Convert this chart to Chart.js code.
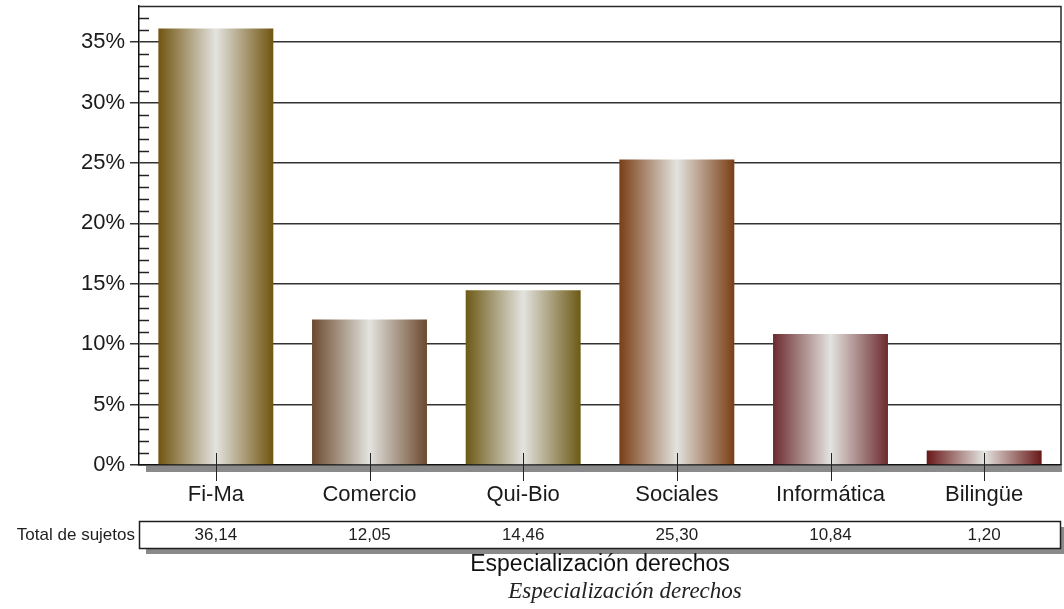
<!DOCTYPE html>
<html>
<head>
<meta charset="utf-8">
<script src="https://cdn.jsdelivr.net/npm/chart.js@4/dist/chart.umd.min.js"></script>
<style>
  html, body { margin: 0; padding: 0; background: #ffffff; }
  #wrap { width: 1064px; height: 609px; position: relative; }
</style>
</head>
<body>
<div id="wrap"><canvas id="c" width="1064" height="609"></canvas></div>
<script>
// Share of subjects per specialisation (percent)
const categories = ['Fi-Ma', 'Comercio', 'Qui-Bio', 'Sociales', 'Informática', 'Bilingüe'];
const percentages = [36.14, 12.05, 14.46, 25.30, 10.84, 1.20];
const rowLabel = 'Total de sujetos';
const axisTitle = 'Especialización derechos';
const captionText = 'Especialización derechos';
const yTickStep = 5;
const yMax = 38;

// Edge colour of each bar's metallic gradient
const edgeColors = ['#715510', '#6c4a2e', '#6d5a16', '#7a3e16', '#6c2a2e', '#681818'];
const shineColor = '#e3e3df';
const barPct = 0.748;

function barGradient(c) {
  const ch = c.chart;
  const xs = ch.scales.x;
  const col = edgeColors[c.dataIndex];
  if (!ch.chartArea || !xs) return col;
  const cx = xs.getPixelForValue(c.dataIndex);
  const half = xs.width / categories.length * barPct / 2;
  const g = ch.ctx.createLinearGradient(cx - half, 0, cx + half, 0);
  g.addColorStop(0, col);
  g.addColorStop(0.5, shineColor);
  g.addColorStop(1, col);
  return g;
}

const fmt = v => v.toFixed(2).replace('.', ',');

const decorations = {
  id: 'decorations',
  afterDraw(chart) {
    const ctx = chart.ctx;
    const area = chart.chartArea;
    const xs = chart.scales.x;
    const ys = chart.scales.y;
    ctx.save();

    // plot frame: top and right edges
    ctx.strokeStyle = '#2a2a2a';
    ctx.lineWidth = 1.5;
    ctx.beginPath();
    ctx.moveTo(area.left, area.top + 0.5);
    ctx.lineTo(area.right, area.top + 0.5);
    ctx.lineTo(area.right, area.bottom);
    ctx.stroke();

    // minor ticks every 1 %
    ctx.strokeStyle = '#222';
    ctx.lineWidth = 1.5;
    for (let v = 1; v < yMax; v++) {
      if (v % yTickStep === 0) continue;
      const y = Math.round(ys.getPixelForValue(v)) + 0.5;
      ctx.beginPath();
      ctx.moveTo(area.left, y);
      ctx.lineTo(area.left + 10, y);
      ctx.stroke();
    }

    // floor shadow under the baseline
    ctx.fillStyle = '#8a8a8a';
    ctx.fillRect(area.left + 7, area.bottom + 1, area.right - area.left - 6, 6);

    // category tick marks crossing the baseline
    ctx.strokeStyle = '#222';
    ctx.lineWidth = 1;
    categories.forEach((_, i) => {
      const x = Math.round(xs.getPixelForValue(i)) + 0.5;
      ctx.beginPath();
      ctx.moveTo(x, area.bottom - 12);
      ctx.lineTo(x, area.bottom + 16);
      ctx.stroke();
    });

    // data table row
    const top = 521, bottom = 548;
    ctx.fillStyle = '#8a8a8a';
    ctx.fillRect(area.left + 7, bottom, area.right - area.left - 4, 6);
    ctx.fillRect(area.right, top + 6, 3, bottom - top);
    ctx.fillStyle = '#ffffff';
    ctx.fillRect(area.left, top, area.right - area.left, bottom - top);
    ctx.strokeStyle = '#1e1e1e';
    ctx.lineWidth = 1.5;
    ctx.strokeRect(area.left + 0.5, top + 0.5, area.right - area.left - 1, bottom - top);

    ctx.fillStyle = '#1e1e1e';
    ctx.font = '17px "Liberation Sans", Arial, sans-serif';
    ctx.textBaseline = 'middle';
    ctx.textAlign = 'right';
    ctx.fillText(rowLabel, area.left - 4, (top + bottom) / 2 + 1);
    ctx.textAlign = 'center';
    percentages.forEach((v, i) => {
      ctx.fillText(fmt(v), xs.getPixelForValue(i), (top + bottom) / 2 + 1);
    });

    // axis title and caption
    ctx.fillStyle = '#111';
    ctx.font = '23px "Liberation Sans", Arial, sans-serif';
    ctx.fillText(axisTitle, (area.left + area.right) / 2, 565);
    ctx.fillStyle = '#222';
    ctx.font = 'italic 23px "Liberation Serif", "Times New Roman", serif';
    ctx.fillText(captionText, 625, 592);

    ctx.restore();
  }
};

new Chart(document.getElementById('c'), {
  type: 'bar',
  data: {
    labels: categories,
    datasets: [{
      data: percentages,
      backgroundColor: barGradient,
      borderWidth: 0,
      categoryPercentage: 1,
      barPercentage: barPct
    }]
  },
  options: {
    responsive: false,
    animation: false,
    layout: { padding: { top: 6, right: 3, left: 0, bottom: 0 } },
    plugins: { legend: { display: false }, tooltip: { enabled: false } },
    scales: {
      x: {
        grid: { display: false, drawTicks: false },
        border: { display: true, color: '#111', width: 1.5 },
        ticks: {
          color: '#1a1a1a',
          padding: 17,
          maxRotation: 0,
          font: { family: '"Liberation Sans", Arial, sans-serif', size: 22 }
        },
        afterFit: s => { s.height = 144; s.paddingLeft = 0; s.paddingRight = 0; }
      },
      y: {
        min: 0,
        max: yMax,
        afterBuildTicks: s => { s.ticks = s.ticks.filter(t => t.value % yTickStep === 0); },
        grid: { color: '#333', lineWidth: 1.5, tickLength: 9, drawTicks: true },
        border: { display: true, color: '#111', width: 1.5 },
        ticks: {
          stepSize: yTickStep,
          color: '#1a1a1a',
          padding: 5,
          font: { family: '"Liberation Sans", Arial, sans-serif', size: 22 },
          callback: v => v + '%'
        },
        afterFit: s => { s.width = 139; s.paddingTop = 0; s.paddingBottom = 0; }
      }
    }
  },
  plugins: [decorations]
});
</script>
</body>
</html>
